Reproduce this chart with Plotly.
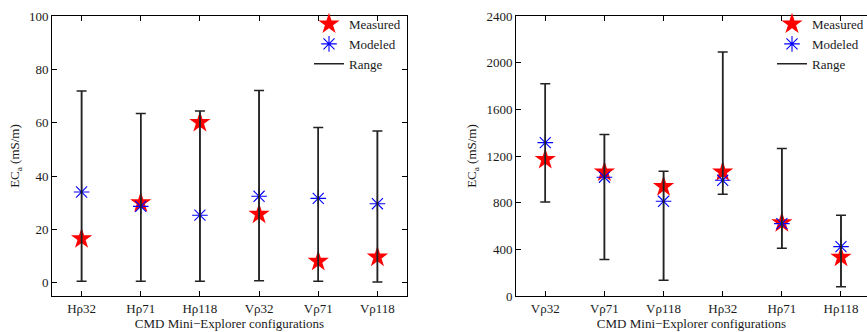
import plotly.graph_objects as go

# Left panel data
cats_left = ["Hρ32", "Hρ71", "Hρ118", "Vρ32", "Vρ71", "Vρ118"]
measured_left = [16.5, 30.0, 60.1, 25.7, 8.0, 9.6]
modeled_left = [34.0, 28.6, 25.3, 32.4, 31.6, 29.6]
range_lo_left = [0.5, 0.5, 0.5, 0.75, 0.5, 0.25]
range_hi_left = [71.9, 63.4, 64.4, 72.1, 58.2, 56.9]

# Right panel data
cats_right = ["Vρ32", "Vρ71", "Vρ118", "Hρ32", "Hρ71", "Hρ118"]
measured_right = [1170, 1064, 938, 1064, 629, 332]
modeled_right = [1315, 1018, 812, 992, 620, 423]
range_lo_right = [806, 312, 134, 872, 409, 80]
range_hi_right = [1819, 1384, 1070, 2091, 1264, 692]

FONT = "Liberation Serif, Times New Roman, Times, serif"
TXT = "#1a1a1a"
FS = 13

fig = go.Figure()


def add_panel(cats, meas, mod, lo, hi, xa, ya, leg):
    idx = list(range(len(cats)))
    fig.add_trace(go.Scatter(
        x=idx, y=meas, mode="markers", name="Measured",
        marker=dict(symbol="star", size=16, color="#ff0000",
                    line=dict(width=0)),
        xaxis=xa, yaxis=ya, legend=leg, legendrank=1))
    fig.add_trace(go.Scatter(
        x=idx, y=mod, mode="markers", name="Modeled",
        marker=dict(symbol="asterisk-open", size=13, color="#0000ff",
                    line=dict(width=1.1, color="#0000ff")),
        xaxis=xa, yaxis=ya, legend=leg, legendrank=2))
    # range segments (legend entry)
    xs, ys = [], []
    for i, l, h in zip(idx, lo, hi):
        xs += [i, i, None]
        ys += [l, h, None]
    fig.add_trace(go.Scatter(
        x=xs, y=ys, mode="lines", name="Range",
        line=dict(color="#222222", width=1.5),
        xaxis=xa, yaxis=ya, legend=leg, legendrank=3, showlegend=True))
    # caps
    fig.add_trace(go.Scatter(
        x=idx, y=lo, mode="markers", marker=dict(size=0.1, opacity=0),
        error_y=dict(type="data", array=[h - l for l, h in zip(lo, hi)],
                     arrayminus=[0] * len(lo), color="#222222",
                     thickness=1.5, width=5),
        xaxis=xa, yaxis=ya, showlegend=False, hoverinfo="skip"))


add_panel(cats_left, measured_left, modeled_left, range_lo_left,
          range_hi_left, "x", "y", "legend")
add_panel(cats_right, measured_right, modeled_right, range_lo_right,
          range_hi_right, "x2", "y2", "legend2")

W, H = 867, 332
top = 1 - 16 / H
bot = 1 - 296 / H

axis_common = dict(showline=True, linecolor="black", linewidth=1,
                   ticks="inside", ticklen=5, tickcolor="black",
                   showgrid=False, zeroline=False,
                   tickfont=dict(family=FONT, size=FS, color=TXT))

title_font = dict(family=FONT, size=FS, color=TXT)

fig.update_layout(
    width=W, height=H,
    margin=dict(l=0, r=0, t=0, b=0, autoexpand=False),
    paper_bgcolor="white", plot_bgcolor="white",
    font=dict(family=FONT, size=FS, color=TXT),
    xaxis=dict(domain=[52 / W, 407 / W], range=[-0.5, 5.5],
               tickvals=list(range(6)), ticktext=cats_left,
               mirror="ticks", anchor="y",
               title=dict(text="CMD Mini−Explorer configurations",
                          font=title_font, standoff=2),
               **axis_common),
    yaxis=dict(domain=[bot, top], range=[-5, 100],
               tickvals=[0, 20, 40, 60, 80, 100],
               mirror="ticks", anchor="x",
               title=dict(text="EC<sub>a</sub> (mS/m)",
                          font=title_font, standoff=6),
               **axis_common),
    xaxis2=dict(domain=[516 / W, 1.0], range=[-0.495, 5.44],
                tickvals=list(range(6)), ticktext=cats_right,
                mirror="ticks", anchor="y2",
                title=dict(text="CMD Mini−Explorer configurations",
                           font=title_font, standoff=2),
                **axis_common),
    yaxis2=dict(domain=[bot, top], range=[0, 2400],
                tickvals=[0, 400, 800, 1200, 1600, 2000, 2400],
                mirror=False, anchor="x2",
                title=dict(text="EC<sub>a</sub> (mS/m)",
                           font=title_font, standoff=6),
                **axis_common),
    legend=dict(x=309 / W, y=1 - 9 / H, xanchor="left", yanchor="top",
                bgcolor="rgba(0,0,0,0)", borderwidth=0,
                font=dict(family=FONT, size=FS, color=TXT),
                traceorder="normal"),
    legend2=dict(x=772 / W, y=1 - 9 / H, xanchor="left", yanchor="top",
                 bgcolor="rgba(0,0,0,0)", borderwidth=0,
                 font=dict(family=FONT, size=FS, color=TXT),
                 traceorder="normal"),
)

fig.write_html("out.html")
